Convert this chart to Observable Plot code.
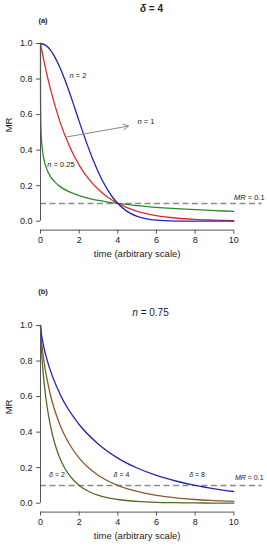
<!DOCTYPE html>
<html>
<head>
<meta charset="utf-8">
<script src="https://cdn.jsdelivr.net/npm/d3@7"></script>
<script src="https://cdn.jsdelivr.net/npm/@observablehq/plot@0.6"></script>
<style>
  body { margin: 0; background: #fff; }
  svg { display: block; }
</style>
</head>
<body>
<div id="chart"></div>
<script>
// Panel (a): delta = 4, different shape parameters n
const tN025 = [0, 0.001, 0.005, 0.02, 0.05, 0.1, 0.2, 0.3, 0.5, 0.75, 1, 1.5, 2, 2.5, 3, 3.5, 4, 5, 6, 7, 8, 9, 10];
const mrN025 = [1, 0.749, 0.648, 0.542, 0.463, 0.400, 0.337, 0.300, 0.254, 0.220, 0.196, 0.165, 0.144, 0.129, 0.117, 0.108, 0.100, 0.088, 0.078, 0.071, 0.065, 0.060, 0.055];
const tN1 = [0, 0.25, 0.5, 1, 1.5, 2, 2.5, 3, 3.5, 4, 5, 6, 7, 8, 9, 10];
const mrN1 = [1, 0.866, 0.750, 0.562, 0.422, 0.316, 0.237, 0.178, 0.133, 0.100, 0.056, 0.032, 0.018, 0.010, 0.006, 0.003];
const tN2 = [0, 0.25, 0.5, 0.75, 1, 1.25, 1.5, 1.75, 2, 2.25, 2.5, 2.75, 3, 3.25, 3.5, 3.75, 4, 4.5, 5, 5.5, 6, 7, 8, 10];
const mrN2 = [1, 0.991, 0.965, 0.922, 0.866, 0.799, 0.724, 0.644, 0.562, 0.483, 0.407, 0.337, 0.274, 0.219, 0.172, 0.132, 0.100, 0.054, 0.027, 0.013, 0.006, 0.001, 0.000, 0.000];

// Panel (b): n = 0.75, different delta
const tD2 = [0, 0.01, 0.02, 0.05, 0.1, 0.25, 0.5, 0.75, 1, 1.25, 1.5, 2, 2.5, 3, 3.5, 4, 5, 6, 7, 8, 9, 10];
const mrD2 = [1, 0.958, 0.930, 0.865, 0.784, 0.616, 0.443, 0.332, 0.254, 0.198, 0.156, 0.100, 0.066, 0.044, 0.030, 0.021, 0.010, 0.005, 0.003, 0.0015, 0.0008, 0.0005];
const tD4 = [0, 0.02, 0.04, 0.1, 0.2, 0.5, 1, 1.5, 2, 2.5, 3, 4, 5, 6, 7, 8, 9, 10];
const mrD4 = [1, 0.958, 0.930, 0.865, 0.784, 0.616, 0.443, 0.332, 0.254, 0.198, 0.156, 0.100, 0.066, 0.044, 0.030, 0.021, 0.015, 0.010];
const tD8 = [0, 0.04, 0.08, 0.2, 0.4, 1, 2, 3, 4, 5, 6, 7, 8, 9, 10];
const mrD8 = [1, 0.958, 0.930, 0.865, 0.784, 0.616, 0.443, 0.332, 0.254, 0.198, 0.156, 0.125, 0.100, 0.081, 0.066];

const xTicks = [0, 2, 4, 6, 8, 10];
const yTicks = [0, 0.2, 0.4, 0.6, 0.8, 1.0];
const xLabel = "time (arbitrary scale)";
const yLabel = "MR";

const FONT = "Liberation Sans, Arial, sans-serif";
const AXIS = "#555";

function series(t, mr) { return t.map((d, i) => ({t: d, mr: mr[i]})); }

function panel({height, curves, annotations, extra = []}) {
  return Plot.plot({
    width: 267,
    height,
    marginTop: 43,
    marginBottom: height - 229.6,
    marginLeft: 40,
    marginRight: 33.7,
    x: {domain: [0, 10]},
    y: {domain: [-0.05, 1.0]},
    style: {fontFamily: FONT, fontSize: "9px", color: "#222", background: "#fff"},
    marks: [
      Plot.ruleY([0.1], {x1: 0, x2: 11.47, stroke: "#8a8a8a", strokeWidth: 1.4, strokeDasharray: "6,3.5"}),
      ...curves.map(c => Plot.line(series(c.t, c.mr), {x: "t", y: "mr", stroke: c.color, strokeWidth: 1.3, curve: "monotone-x"})),
      Plot.ruleX([0], {y1: 0, y2: 1, stroke: AXIS, strokeWidth: 1}),
      Plot.ruleY([-0.05], {x1: 0, x2: 10, stroke: AXIS, strokeWidth: 1}),
      Plot.axisY({ticks: yTicks, tickFormat: d => d.toFixed(1), tickSize: 4, tickPadding: 4, label: null, stroke: AXIS}),
      Plot.axisX({ticks: xTicks, tickFormat: d => String(d), tickSize: 4, tickPadding: 3, label: null, stroke: AXIS}),
      Plot.text([xLabel], {frameAnchor: "bottom", dy: 27, text: d => d, fontSize: 9.5}),
      Plot.text([yLabel], {frameAnchor: "left", y: 0.5, dx: -32, rotate: -90, text: d => d, fontSize: 9.5}),
      ...annotations.map(a => Plot.text([a.text], {x: a.x, y: a.y, text: d => d, fontSize: a.size || 7.5, fontWeight: a.weight || "normal", fill: "#222"})),
      ...extra
    ]
  });
}

function italicize(svg) {
  svg.querySelectorAll("text").forEach(el => {
    if (el.querySelector("tspan")) return;
    const m = el.textContent.match(/^(δ|n|MR)( = .+)$/);
    if (!m) return;
    el.textContent = "";
    const a = document.createElementNS("http://www.w3.org/2000/svg", "tspan");
    a.setAttribute("font-style", "italic");
    a.textContent = m[1];
    const b = document.createElementNS("http://www.w3.org/2000/svg", "tspan");
    b.textContent = m[2];
    el.appendChild(a); el.appendChild(b);
  });
}

const panelA = panel({
  height: 282,
  curves: [
    {t: tN025, mr: mrN025, color: "#2a8a2a"},
    {t: tN1, mr: mrN1, color: "#dd2a33"},
    {t: tN2, mr: mrN2, color: "#2323bb"}
  ],
  annotations: [
    {text: "δ = 4", x: 5.74, y: 1.198, size: 10, weight: "bold"},
    {text: "(a)", x: 0.13, y: 1.13, size: 7.5, weight: "bold"},
    {text: "n = 2", x: 1.94, y: 0.82},
    {text: "n = 1", x: 5.46, y: 0.563},
    {text: "n = 0.25", x: 1.06, y: 0.32},
    {text: "MR = 0.1", x: 10.8, y: 0.135}
  ],
  extra: [
    Plot.arrow([{x1: 1.29, y1: 0.473, x2: 4.55, y2: 0.535}], {x1: "x1", y1: "y1", x2: "x2", y2: "y2", stroke: "#8a8a8a", strokeWidth: 1, headLength: 9})
  ]
});

const panelB = panel({
  height: 268,
  curves: [
    {t: tD2, mr: mrD2, color: "#4b6e28"},
    {t: tD4, mr: mrD4, color: "#8a5a2c"},
    {t: tD8, mr: mrD8, color: "#2323bb"}
  ],
  annotations: [
    {text: "(b)", x: 0.13, y: 1.193, size: 7.5, weight: "bold"},
    {text: "n = 0.75", x: 5.69, y: 1.074, size: 10},
    {text: "δ = 2", x: 0.85, y: 0.162, size: 7},
    {text: "δ = 4", x: 4.19, y: 0.162, size: 7},
    {text: "δ = 8", x: 8.1, y: 0.162, size: 7},
    {text: "MR = 0.1", x: 10.8, y: 0.145, size: 7}
  ]
});

italicize(panelA);
italicize(panelB);
const root = document.getElementById("chart");
root.appendChild(panelA);
root.appendChild(panelB);
</script>
</body>
</html>
